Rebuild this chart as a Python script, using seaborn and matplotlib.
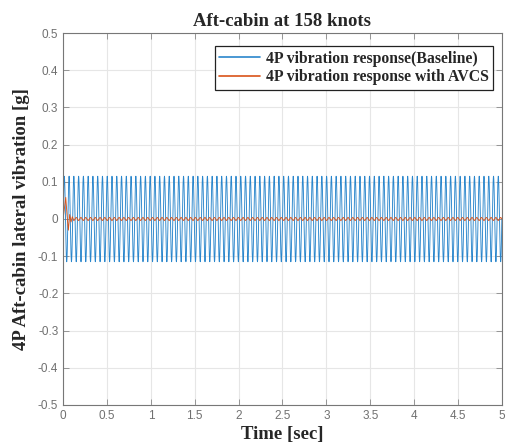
import numpy as np
import pandas as pd
import matplotlib
matplotlib.use("Agg")
import matplotlib.pyplot as plt
import seaborn as sns

# ---- values ----
title = "Aft-cabin at 158 knots"
xlabel = "Time [sec]"
ylabel = "4P Aft-cabin lateral vibration [g]"
series_names = ["4P vibration response(Baseline)", "4P vibration response with AVCS"]
x_ticks = [0, 0.5, 1, 1.5, 2, 2.5, 3, 3.5, 4, 4.5, 5]
y_ticks = [-0.5, -0.4, -0.3, -0.2, -0.1, 0, 0.1, 0.2, 0.3, 0.4, 0.5]

baseline_amplitude = 0.115     # g, peak of blue trace
baseline_freq_hz = 18.4        # ~92 cycles over 5 s
avcs_ripple_amplitude = 0.004  # residual ripple after control
# initial transient of the AVCS trace
avcs_transient_t = [0.0, 0.015, 0.03, 0.045, 0.06, 0.075, 0.09, 0.105, 0.12]
avcs_transient_v = [0.0, 0.03, 0.058, 0.01, -0.03, 0.012, -0.008, 0.006, -0.004]

t = np.arange(0, 5.0001, 0.001)
base = baseline_amplitude * np.sin(2 * np.pi * baseline_freq_hz * t)

t_tail = t[t > avcs_transient_t[-1]]
avcs_t = np.concatenate([avcs_transient_t, t_tail])
avcs_v = np.concatenate([avcs_transient_v,
                         avcs_ripple_amplitude * np.sin(2 * np.pi * baseline_freq_hz * t_tail + 3.2)])

df = pd.concat([
    pd.DataFrame({"t": t, "v": base, "s": series_names[0]}),
    pd.DataFrame({"t": avcs_t, "v": avcs_v, "s": series_names[1]}),
])

sns.set_style("white")
fig = plt.figure(figsize=(5.09, 4.46), dpi=100)
ax = fig.add_axes([0.124, 0.092, 0.862, 0.834])

palette = {series_names[0]: "#2a86cc", series_names[1]: "#D95319"}
sns.lineplot(data=df, x="t", y="v", hue="s", palette=palette, estimator=None,
             sort=False, linewidth=0.65, ax=ax)

ax.set_xlim(0, 5)
ax.set_ylim(-0.5, 0.5)
ax.set_xticks(x_ticks)
ax.set_yticks(y_ticks)
ax.set_xticklabels([f"{v:g}" for v in x_ticks])
ax.set_yticklabels([f"{v:g}" for v in y_ticks])
ax.grid(True, color="#e6e6e6", linewidth=0.8)
ax.set_axisbelow(True)
ax.tick_params(direction="in", length=4, width=0.6, colors="#888888",
               labelcolor="#707070", labelsize=8.5, top=True, right=True,
               bottom=True, left=True)
for lab in ax.get_xticklabels() + ax.get_yticklabels():
    lab.set_fontfamily(["Liberation Sans", "DejaVu Sans"])
for sp in ax.spines.values():
    sp.set_color("#777777")
    sp.set_linewidth(0.8)

serif = ["Liberation Serif", "DejaVu Serif"]
ax.set_title(title, fontfamily=serif, fontweight="bold", fontsize=13.5, pad=5)
ax.set_xlabel(xlabel, fontfamily=serif, fontweight="bold", fontsize=13.5, labelpad=3)
ax.set_ylabel(ylabel, fontfamily=serif, fontweight="bold", fontsize=13.5, labelpad=6)

leg = ax.legend(loc="upper right", prop={"family": serif, "weight": "bold", "size": 11.3},
                frameon=True, fancybox=False, edgecolor="#222222", framealpha=1,
                handlelength=2.6, handletextpad=0.35, borderpad=0.3, labelspacing=0.15,
                borderaxespad=0, bbox_to_anchor=(0.980, 0.965))
leg.get_frame().set_linewidth(0.9)
for line in leg.get_lines():
    line.set_linewidth(1.2)

fig.savefig("out.png", dpi=100)
